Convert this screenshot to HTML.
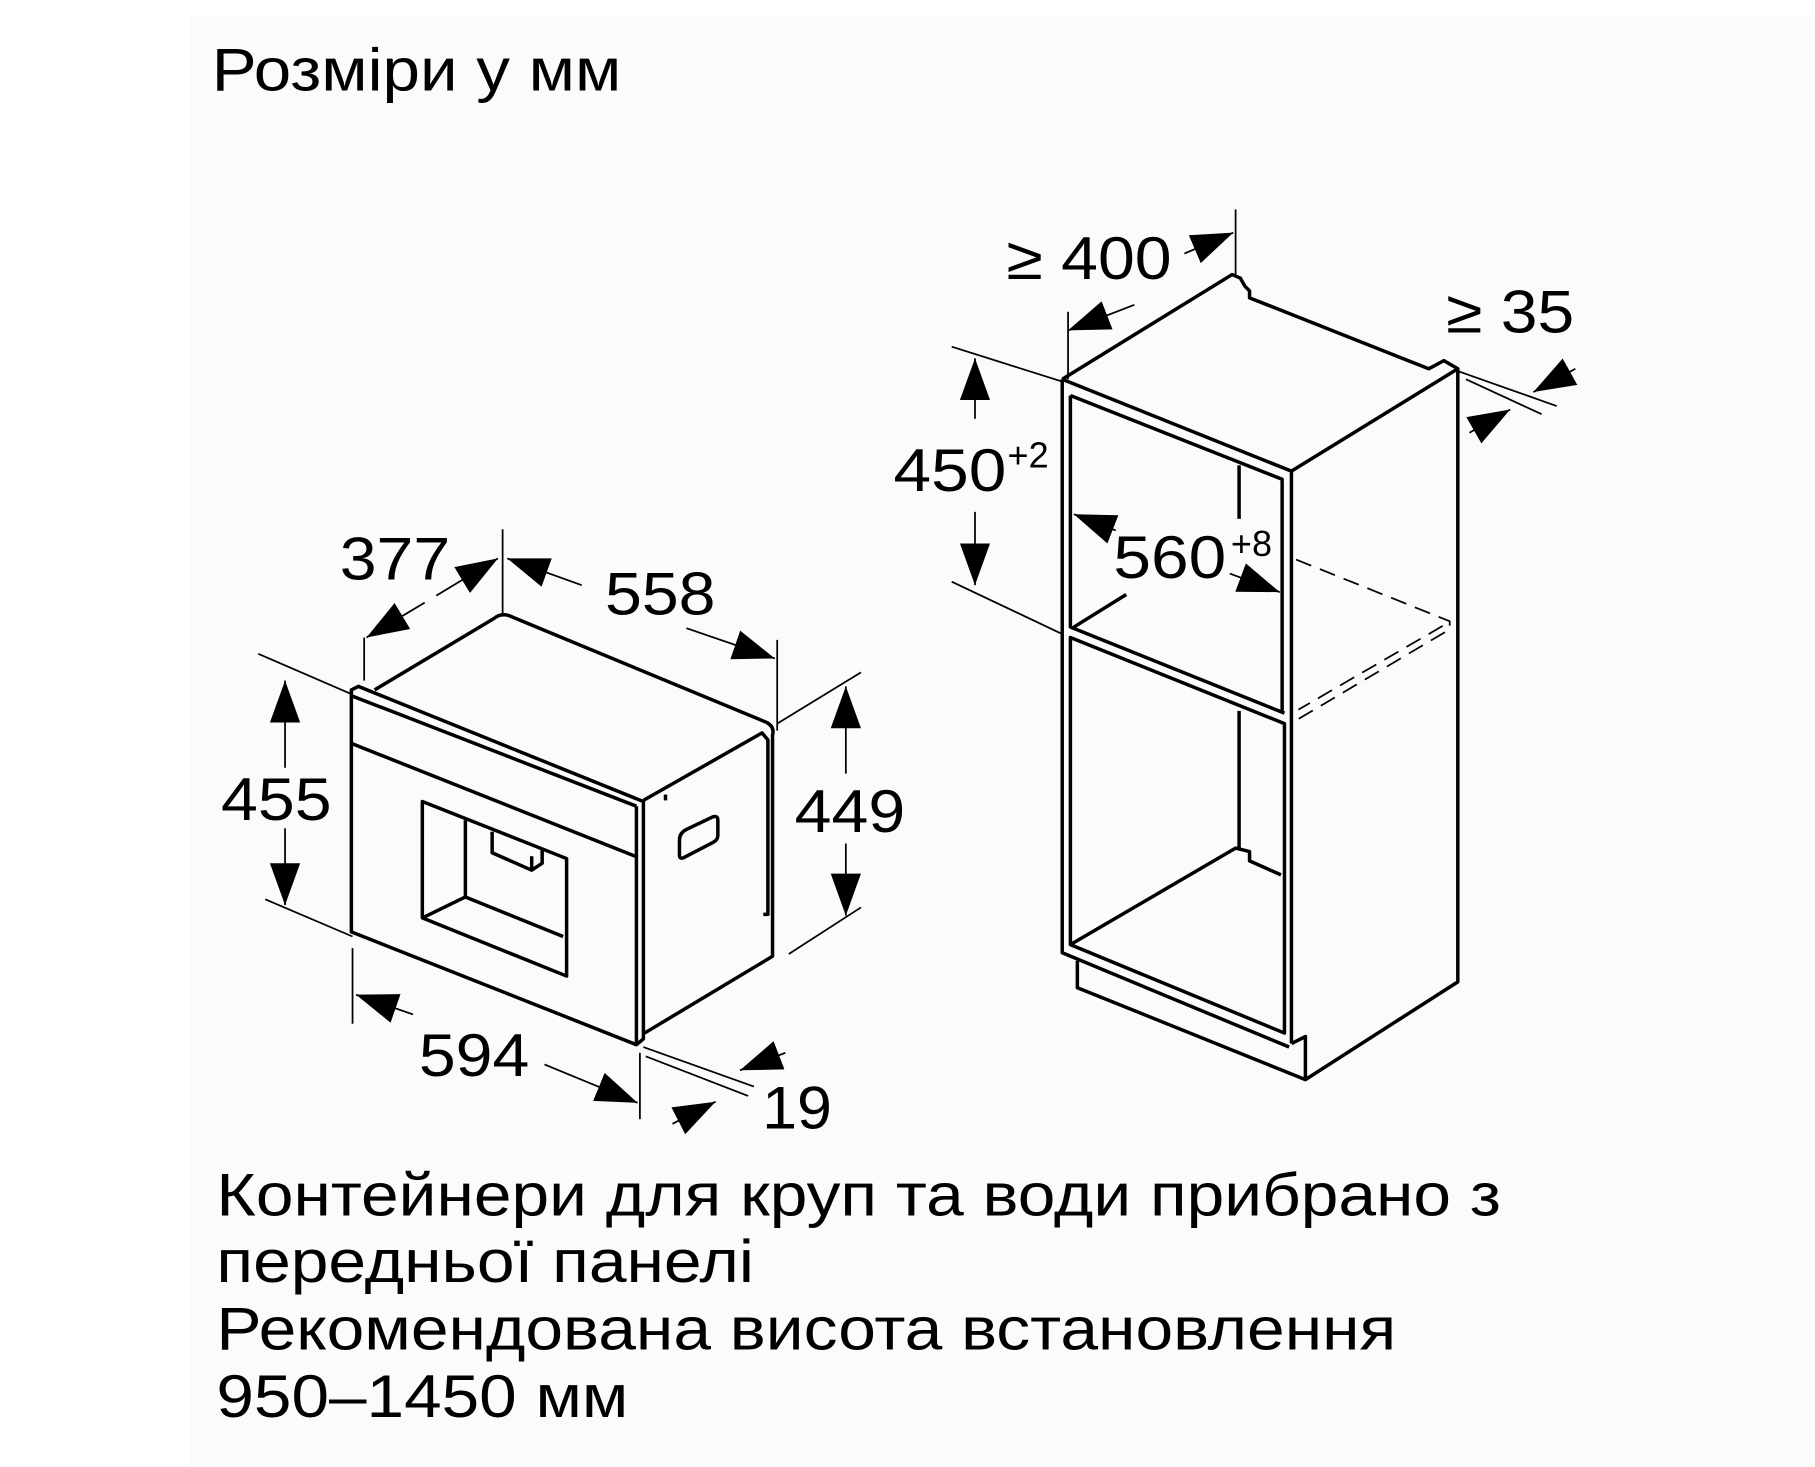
<!DOCTYPE html>
<html><head><meta charset="utf-8"><style>
html,body{margin:0;padding:0;background:#fff;}
svg{display:block;}
text{font-family:"Liberation Sans",Arial,sans-serif;fill:#000;}
</style></head><body>
<svg width="1815" height="1467" viewBox="0 0 1560 1261" preserveAspectRatio="none" xmlns="http://www.w3.org/2000/svg">
<defs>
<marker id="a" markerUnits="userSpaceOnUse" markerWidth="40" markerHeight="30" refX="36" refY="15" orient="auto-start-reverse" viewBox="0 0 40 30"><path d="M0,2 L36,15 L0,28 Z" fill="#000"/></marker>
</defs>
<rect x="163" y="14" width="1397" height="1247" fill="#fbfbfb"/>
<text x="182" y="78" font-size="52" textLength="352" lengthAdjust="spacingAndGlyphs">Розміри у мм</text>

<g fill="none" stroke="#000" stroke-width="3" stroke-linejoin="round">
<path d="M302,593 L302,801 L547,898 L553,893 L553,689 L308,590 Z"/>
<path d="M302,598 L547,693"/>
<path d="M547,693 L547,898"/>
<path d="M302,639 L546,736"/>
<path d="M322,593 L424,532 Q430,527 437,529 L659,621 Q666,625 664,632 L664,822 L554,888"/>
<path d="M553,688 L655,630 L660,636 L660,786 L656,786"/>
<path d="M572,688 L572,683"/>
<path d="M363,689 L363,789 L487,839 L487,738 Z"/>
<path d="M400,705 L400,771 L484,805"/>
<path d="M363,789 L400,771"/>
<path d="M423,715 L423,733 L457,748 L466,742 L466,729"/>
<path d="M457,748 L457,736"/>
<path d="M584,722 Q584,716 590,713 L613,702 Q617,701 617,705 L617,718 Q617,722 613,724 L588,737 Q584,739 584,735 Z"/>
</g>
<g fill="none" stroke="#000" stroke-width="1.5">
<path d="M222,562 L303,597"/><path d="M228,773 L303,805"/>
<path d="M668,622 L740,578"/><path d="M678,820 L740,780"/>
<path d="M313,548 L313,585"/><path d="M432,455 L432,528"/>
<path d="M668,550 L668,628"/>
<path d="M303,815 L303,880"/><path d="M550,905 L550,962"/>
<path d="M553,900 L648,934"/><path d="M555,908 L643,942"/>
<path d="M818,298 L913,328"/><path d="M818,500 L913,545"/>
<path d="M918,268 L918,326"/><path d="M1062,180 L1062,236"/>
<path d="M1253,319 L1338,349"/><path d="M1260,326 L1325,356"/>
</g>
<g fill="none" stroke="#000" stroke-width="1.5">
<path d="M245,612 L245,585" marker-end="url(#a)"/>
<path d="M245,750 L245,778" marker-end="url(#a)"/>
<path d="M245,612 L245,660"/><path d="M245,712 L245,750"/>
<path d="M727,620 L727,590" marker-end="url(#a)"/>
<path d="M727,620 L727,665"/><path d="M727,725 L727,787" marker-end="url(#a)"/>
<path d="M365,518 L315,548" marker-end="url(#a)"/>
<path d="M375,512 L428,480" marker-end="url(#a)"/>
<path d="M500,503 L436,480" marker-end="url(#a)"/>
<path d="M590,540 L666,566" marker-end="url(#a)"/>
<path d="M355,872 L306,855" marker-end="url(#a)"/>
<path d="M468,915 L548,948" marker-end="url(#a)"/>
<path d="M675,905 L636,920" marker-end="url(#a)"/>
<path d="M578,966 L615,947" marker-end="url(#a)"/>
<path d="M838,360 L838,308" marker-end="url(#a)"/>
<path d="M838,440 L838,503" marker-end="url(#a)"/>
<path d="M975,262 L918,284" marker-end="url(#a)"/>
<path d="M1018,218 L1060,200" marker-end="url(#a)"/>
<path d="M959,456 L923,442" marker-end="url(#a)"/>
<path d="M1057,493 L1100,509" marker-end="url(#a)"/>
<path d="M1354,317 L1318,337" marker-end="url(#a)"/>
<path d="M1263,372 L1298,352" marker-end="url(#a)"/>
</g>
<g fill="none" stroke="#000" stroke-width="3" stroke-linejoin="round">
<path d="M913,326 L913,819 L1108,900"/>
<path d="M913,326 L1059,236 L1066,239 L1070,246 L1074,250 L1074,256 L1228,317 L1241,310 L1253,317 L1110,405 L913,326"/>
<path d="M1253,317 L1253,844 L1122,928 L1122,891 L1110,897"/>
<path d="M1110,405 L1110,897"/>
<path d="M926,826 L926,849 L1122,928"/>
<path d="M920,340 L1102,412 L1102,613 M920,340 L920,539 L1104,613"/>
<path d="M920,548 L1104,622 L1104,888 L920,812 Z"/>
<path d="M920,812 L1062,729 L1074,732 L1074,740 L1101,752"/>
<path d="M1065,611 L1065,729"/>
<path d="M1065,400 L1065,446"/>
<path d="M923,539 L968,511"/>
</g>
<g fill="none" stroke="#000" stroke-width="1.5" stroke-dasharray="14,8">
<path d="M1114,481 L1246,534 L1246,541 L1111,621"/>
<path d="M1240,538 L1116,610"/>
</g>
<g font-size="52">
<text x="190" y="705" textLength="95" lengthAdjust="spacingAndGlyphs">455</text>
<text x="683" y="715" textLength="95" lengthAdjust="spacingAndGlyphs">449</text>
<text x="292" y="498" textLength="95" lengthAdjust="spacingAndGlyphs">377</text>
<text x="520" y="528" textLength="95" lengthAdjust="spacingAndGlyphs">558</text>
<text x="360" y="925" textLength="95" lengthAdjust="spacingAndGlyphs">594</text>
<text x="655" y="970" textLength="60" lengthAdjust="spacingAndGlyphs">19</text>
<text x="768" y="422" textLength="97" lengthAdjust="spacingAndGlyphs">450</text>
<text x="957" y="497" textLength="97" lengthAdjust="spacingAndGlyphs">560</text>
<text x="865" y="240" textLength="142" lengthAdjust="spacingAndGlyphs">≥ 400</text>
<text x="1243" y="286" textLength="110" lengthAdjust="spacingAndGlyphs">≥ 35</text>
</g>
<text x="866" y="402" font-size="31">+2</text>
<text x="1058" y="478" font-size="31">+8</text>
<g font-size="52">
<text x="186" y="1045" textLength="1104" lengthAdjust="spacingAndGlyphs">Контейнери для круп та води прибрано з</text>
<text x="186" y="1102" textLength="462" lengthAdjust="spacingAndGlyphs">передньої панелі</text>
<text x="186" y="1160" textLength="1014" lengthAdjust="spacingAndGlyphs">Рекомендована висота встановлення</text>
<text x="186" y="1218" textLength="354" lengthAdjust="spacingAndGlyphs">950–1450 мм</text>
</g>
</svg>
</body></html>
